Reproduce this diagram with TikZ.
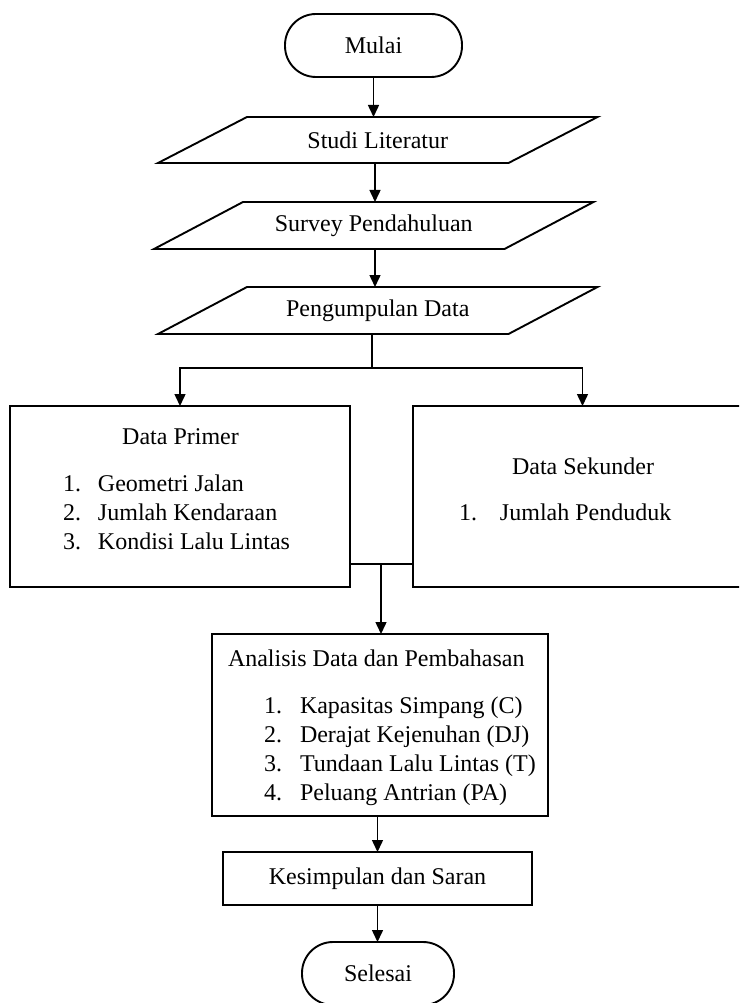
\documentclass[tikz,border=0pt]{standalone}
\usepackage{fontspec}
\setmainfont{Liberation Serif}
\usetikzlibrary{arrows.meta,calc}
\begin{document}
\begin{tikzpicture}[x=1pt,y=-1pt,
  every node/.style={font=\fontsize{24}{29}\selectfont, inner sep=0pt, outer sep=0pt},
  box/.style={draw, line width=1.9pt, rectangle},
  term/.style={draw, line width=1.9pt, rounded corners=31pt},
  para/.style={line width=1.9pt},
  conn/.style={line width=1.5pt},
  arr/.style={conn, -{Triangle[width=11pt,length=12pt]}},
  txt/.style={anchor=base west, align=left}
]
\useasboundingbox (0,0) rectangle (739,1003);
\clip (0,0) rectangle (739,1003);

% terminals and input blocks
\node[term, minimum width=177pt, minimum height=63pt] (mulai) at (373.5,45.5) {Mulai};
\node[minimum width=350.5pt, minimum height=46pt] (s1) at (377.75,140) {Studi Literatur};
\node[minimum width=350.5pt, minimum height=47pt] (s2) at (373.75,225.5) {Survey Pendahuluan};
\node[minimum width=350.5pt, minimum height=47pt] (s3) at (377.75,310.5) {Pengumpulan Data};
\foreach \n in {s1,s2,s3}
  \draw[para] ($(\n.north west)+(44.5,0)$) -- ($(\n.north east)+(44.5,0)$) -- ($(\n.south east)+(-44.5,0)$) -- ($(\n.south west)+(-44.5,0)$) -- cycle;

% data boxes
\node[box, minimum width=340pt, minimum height=181pt] (dp) at (180,496.5) {};
\node[anchor=base] (dpt) at (180.5,444) {Data Primer};
\node[txt] (dpl) at (63,491) {\begin{tabular}[t]{@{}l@{\hspace{17pt}}l@{}}1. & Geometri Jalan\\2. & Jumlah Kendaraan\\3. & Kondisi Lalu Lintas\end{tabular}};

\node[box, minimum width=339pt, minimum height=181pt] (ds) at (582.5,496.5) {};
\node[anchor=base] (dst) at (583,474) {Data Sekunder};
\node[txt] (dsl) at (459,520) {\begin{tabular}[t]{@{}l@{\hspace{23pt}}l@{}}1. & Jumlah Penduduk\end{tabular}};

% analysis
\node[box, minimum width=336pt, minimum height=182pt] (an) at (380,725) {};
\node[txt] (ant) at (228,666) {Analisis Data dan Pembahasan};
\node[txt] (anl) at (264,713) {\begin{tabular}[t]{@{}l@{\hspace{18pt}}l@{}}1. & Kapasitas Simpang (C)\\2. & Derajat Kejenuhan (DJ)\\3. & Tundaan Lalu Lintas (T)\\4. & Peluang Antrian (PA)\end{tabular}};

\node[box, minimum width=309pt, minimum height=53pt] (ks) at (377.5,878.5) {Kesimpulan dan Saran};
\node[term, minimum width=152pt, minimum height=63pt] (sel) at (378,973.5) {Selesai};

% connectors
\coordinate (ax) at (375,0);
\draw[arr] (mulai.south) -- (mulai.south |- s1.north);
\draw[arr] (ax |- s1.south) -- (ax |- s2.north);
\draw[arr] (ax |- s2.south) -- (ax |- s3.north);

\coordinate (sp) at (372,368);
\draw[conn] (sp |- s3.south) -- (sp);
\draw[arr] (sp) -| (dp.north);
\draw[arr] (sp) -| (ds.north);

\coordinate (mg) at (381,564);
\draw[conn] (dp.east |- mg) -- (ds.west |- mg);
\draw[arr] (mg) -- (mg |- an.north);

\draw[arr] (an.south -| ks.north) -- (ks.north);
\draw[arr] (ks.south) -- (ks.south |- sel.north);
\end{tikzpicture}
\end{document}
